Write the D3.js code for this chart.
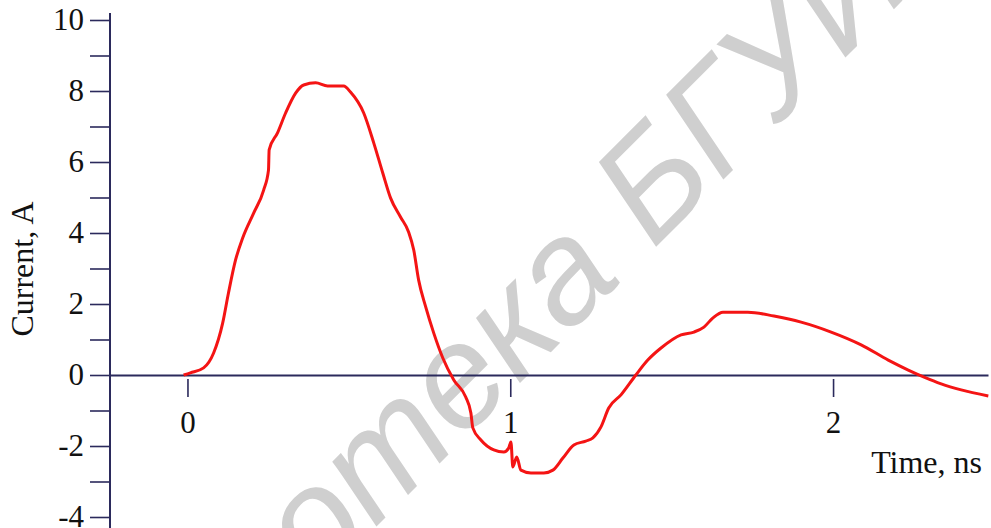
<!DOCTYPE html>
<html>
<head>
<meta charset="utf-8">
<script src="https://cdn.jsdelivr.net/npm/d3@7"></script>
<style>
  body { margin: 0; background: #fff; }
  .axis text { font-family: "Liberation Serif", "Times New Roman", serif; font-size: 31px; fill: #111; }
  .axis line, .axis path { stroke: #2b2a5c; }
</style>
</head>
<body>
<script>
// current pulse
let timeNs = [-0.012, 0.009, 0.05, 0.081, 0.109, 0.127, 0.149, 0.171, 0.205, 0.236, 0.251, 0.253,
  0.279, 0.304, 0.335, 0.36, 0.397, 0.434, 0.484, 0.505, 0.546, 0.577, 0.605, 0.629, 0.66, 0.685,
  0.701, 0.716, 0.738, 0.763, 0.791, 0.825, 0.862, 0.878, 0.884, 0.909, 0.949, 0.98, 0.995, 1.002,
  1.008, 1.02, 1.033, 1.064, 1.104, 1.132, 1.163, 1.197, 1.234, 1.256, 1.281, 1.305, 1.343, 1.389,
  1.426, 1.467, 1.529, 1.569, 1.6, 1.628, 1.659, 1.736, 1.817, 1.901, 1.994, 2.087, 2.171, 2.233,
  2.282, 2.335, 2.397, 2.481];
let currentA = [0, 0.06, 0.2, 0.62, 1.46, 2.31, 3.24, 3.86, 4.56, 5.21, 5.77, 6.34,
  6.82, 7.38, 7.94, 8.17, 8.23, 8.14, 8.14, 7.97, 7.38, 6.54, 5.69, 4.99, 4.45, 4.03,
  3.52, 2.68, 1.92, 1.18, 0.48, -0.14, -0.62, -1.07, -1.49, -1.83, -2.11, -2.17, -2.06, -1.89,
  -2.59, -2.31, -2.68, -2.76, -2.76, -2.68, -2.34, -1.97, -1.86, -1.77, -1.46, -0.93, -0.56, 0,
  0.42, 0.76, 1.13, 1.21, 1.35, 1.61, 1.77, 1.77, 1.66, 1.49, 1.21, 0.85, 0.42, 0.14,
  -0.06, -0.25, -0.42, -0.59];

let xTicks = [0, 1, 2];
let yTicks = [-4, -3, -2, -1, 0, 1, 2, 3, 4, 5, 6, 7, 8, 9, 10];
let xTitle = "Time, ns";
let yTitle = "Current, A";
let watermark = "Библиотека БГУИР";

let width = 991, height = 528;
let axisColor = "#2b2a5c";

let svg = d3.select("body").append("svg")
  .attr("width", width)
  .attr("height", height);

let x = d3.scaleLinear().domain([-0.24, 2.48]).range([110, 988]);
let y = d3.scaleLinear().domain([-4, 10]).range([517, 20]);

// watermark behind everything
let wmText = svg.append("g")
  .attr("transform", "translate(653,250) rotate(-45)")
  .append("text")
  .attr("font-family", "Liberation Sans, Arial, sans-serif")
  .attr("font-style", "italic")
  .attr("font-size", 146)
  .attr("fill", "#cfcfcf")
  .text(watermark);
wmText.attr("x", -wmText.node().getSubStringLength(0, 11));

// y axis
let yAxis = svg.append("g")
  .attr("class", "axis")
  .attr("transform", "translate(" + x(-0.24) + ",0)")
  .call(d3.axisLeft(y)
    .tickValues(yTicks)
    .tickSize(20)
    .tickPadding(6)
    .tickFormat(d => d % 2 === 0 ? String(d) : ""));
yAxis.select(".domain").remove();
yAxis.selectAll(".tick line").attr("stroke-width", 1.6);

svg.append("line")
  .attr("x1", x(-0.24)).attr("x2", x(-0.24))
  .attr("y1", y(10.2)).attr("y2", height)
  .attr("stroke", axisColor)
  .attr("stroke-width", 2);

// x axis through zero
let xAxis = svg.append("g")
  .attr("class", "axis")
  .attr("transform", "translate(0," + y(0) + ")")
  .call(d3.axisBottom(x)
    .tickValues(xTicks)
    .tickSize(22)
    .tickSizeOuter(0)
    .tickFormat(d => String(d)));
xAxis.select(".domain").attr("stroke-width", 2);
xAxis.selectAll(".tick line").attr("y1", 4).attr("stroke-width", 1.6);
xAxis.selectAll(".tick text").attr("dy", 0).attr("y", 58);

// titles
svg.append("text")
  .attr("x", 982)
  .attr("y", 473)
  .attr("text-anchor", "end")
  .attr("font-family", "Liberation Serif, Times New Roman, serif")
  .attr("font-size", 32)
  .attr("fill", "#111")
  .text(xTitle);

svg.append("text")
  .attr("transform", "translate(33,269) rotate(-90)")
  .attr("text-anchor", "middle")
  .attr("font-family", "Liberation Serif, Times New Roman, serif")
  .attr("font-size", 32)
  .attr("fill", "#111")
  .text(yTitle);

// the curve
svg.append("path")
  .datum(timeNs.map((t, i) => [t, currentA[i]]))
  .attr("fill", "none")
  .attr("stroke", "#f41414")
  .attr("stroke-width", 3)
  .attr("stroke-linejoin", "round")
  .attr("d", d3.line()
    .x(d => x(d[0]))
    .y(d => y(d[1]))
    .curve(d3.curveMonotoneX));
</script>
</body>
</html>
